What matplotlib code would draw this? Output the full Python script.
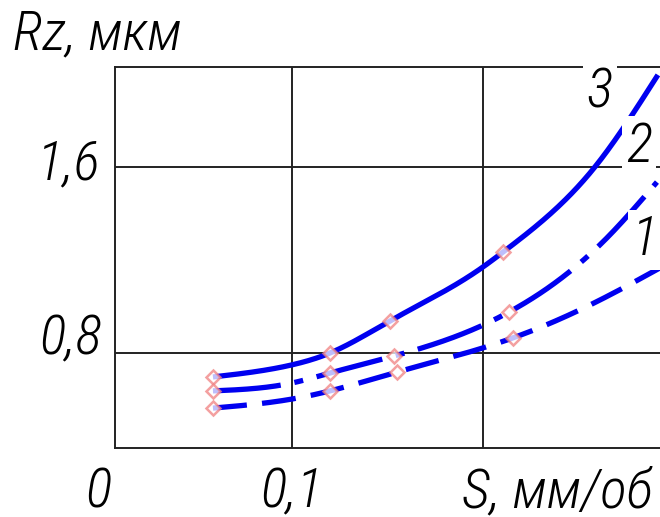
import numpy as np
import matplotlib
matplotlib.use('Agg')
from matplotlib import pyplot as plt

# feed S, mm/rev  and  roughness Rz, um  (markers = measured points)
s_meas_3 = [0.0586, 0.1199, 0.1513, 0.2105]
rz_meas_3 = [0.697, 0.800, 0.938, 1.234]
s_meas_2 = [0.0586, 0.1199, 0.1534, 0.2136]
rz_meas_2 = [0.637, 0.714, 0.787, 0.976]
s_meas_1 = [0.0586, 0.1199, 0.1550, 0.2157]
rz_meas_1 = [0.563, 0.637, 0.718, 0.865]

# extra points (no markers)
s_line_3 = [0.0586, 0.1000, 0.1199, 0.1513, 0.2000, 0.2105, 0.2586, 0.2916]
rz_line_3 = [0.697, 0.749, 0.800, 0.938, 1.170, 1.234, 1.600, 1.996]
s_line_2 = [0.0586, 0.1000, 0.1199, 0.1534, 0.2000, 0.2136, 0.2649, 0.2911]
rz_line_2 = [0.637, 0.671, 0.714, 0.787, 0.920, 0.976, 1.295, 1.535]
s_line_1 = [0.0586, 0.1000, 0.1199, 0.1550, 0.2000, 0.2157, 0.2613, 0.2927]
rz_line_1 = [0.563, 0.602, 0.637, 0.718, 0.822, 0.865, 1.028, 1.166]

x_grid = [0.1, 0.2]
y_grid = [0.8, 1.6]


def smooth(x, y, n=300):
    # natural cubic spline through the read points
    x = np.asarray(x, float)
    y = np.asarray(y, float)
    k = len(x)
    h = np.diff(x)
    A = np.zeros((k, k))
    b = np.zeros(k)
    A[0, 0] = A[-1, -1] = 1
    for i in range(1, k - 1):
        A[i, i - 1] = h[i - 1]
        A[i, i] = 2 * (h[i - 1] + h[i])
        A[i, i + 1] = h[i]
        b[i] = 6 * ((y[i + 1] - y[i]) / h[i] - (y[i] - y[i - 1]) / h[i - 1])
    M = np.linalg.solve(A, b)
    xs = np.linspace(x[0], x[-1], n)
    j = np.clip(np.searchsorted(x, xs) - 1, 0, k - 2)
    t0 = x[j + 1] - xs
    t1 = xs - x[j]
    hj = h[j]
    ys = (M[j] * t0 ** 3 + M[j + 1] * t1 ** 3) / (6 * hj) \
        + (y[j] / hj - M[j] * hj / 6) * t0 + (y[j + 1] / hj - M[j + 1] * hj / 6) * t1
    return xs, ys


if __name__ == '__main__':
    plt.rcParams['lines.scale_dashes'] = False
    font = ['Roboto Condensed', 'DejaVu Sans']
    W, H = 660, 517
    fig = plt.figure(figsize=(6.6, 5.17), dpi=100)
    ax = fig.add_axes([115 / W, (H - 448) / H, 545 / W, 381 / H])
    ax.set_xlim(0.0073, 0.2927)
    ax.set_ylim(0.3914, 2.030)
    ax.set_xticks([])
    ax.set_yticks([])
    ax.spines['right'].set_visible(False)
    for sp in ['left', 'bottom', 'top']:
        ax.spines[sp].set_linewidth(1.4)
        ax.spines[sp].set_color('#222222')
    for gx in x_grid:
        ax.axvline(gx, color='#222222', lw=1.4, zorder=1)
    for gy in y_grid:
        ax.axhline(gy, color='#222222', lw=1.4, zorder=1)

    blue = '#0000f0'
    styles = {
        3: '-',
        2: (0, (49, 10, 6.5, 10)),
        1: (0, (24.5, 11)),
    }
    curves = [
        (3, s_line_3, rz_line_3, s_meas_3, rz_meas_3),
        (2, s_line_2, rz_line_2, s_meas_2, rz_meas_2),
        (1, s_line_1, rz_line_1, s_meas_1, rz_meas_1),
    ]
    for num, sx, sy, mx, my in curves:
        xs, ys = smooth(sx, sy)
        ax.plot(xs, ys, color=blue, lw=3.8, ls=styles[num], solid_capstyle='butt',
                dash_capstyle='butt', zorder=3, clip_on=True)
        ax.plot(mx, my, ls='none', marker='D', ms=7, mfc='white', mec='#f08080',
                mew=1.8, alpha=0.75, zorder=4)

    tkw = dict(family=font, style='italic', weight=300, fontsize=40, color='black')

    def ftext(px, py, s, ha='center', va='center', box=False):
        kw = dict(tkw)
        if box:
            kw['bbox'] = dict(facecolor='white', edgecolor='none', pad=3)
        fig.text(px / W, 1 - py / H, s, ha=ha, va=va, zorder=10, **kw)

    ftext(13, 34, 'Rz, мкм', ha='left')
    ftext(100, 164, '1,6', ha='right')
    ftext(102, 339, '0,8', ha='right')
    ftext(98, 492, '0')
    ftext(292, 492, '0,1')
    ftext(557, 492, 'S, мм/об')
    ftext(600, 92, '3', box=True)
    ftext(639, 146, '2', box=True)
    ftext(645, 240, '1', box=True)

    plt.savefig('out.png', dpi=100)
